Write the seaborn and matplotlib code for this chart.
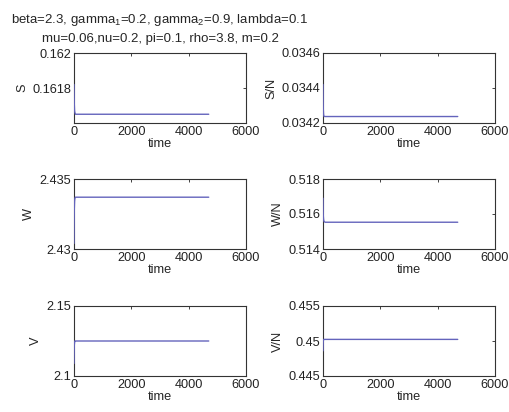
import numpy as np
import pandas as pd
import matplotlib
matplotlib.use("Agg")
import matplotlib.pyplot as plt
import seaborn as sns

sns.set_style("white")
plt.rcParams['font.family'] = ['Liberation Sans', 'DejaVu Sans']
plt.rcParams['mathtext.default'] = 'regular'

# time grid (simulation output samples)
time = [0, 5, 10, 20, 30, 50, 80, 120, 200, 500, 1000, 2000, 3000, 4000, 4700]

S = [0.16182, 0.16176, 0.16171, 0.16167, 0.16166, 0.16165, 0.16165, 0.16165,
     0.16165, 0.16165, 0.16165, 0.16165, 0.16165, 0.16165, 0.16165]
S_N = [0.03442, 0.03434, 0.03428, 0.03425, 0.03424, 0.034237, 0.034237, 0.034237,
       0.034237, 0.034237, 0.034237, 0.034237, 0.034237, 0.034237, 0.034237]
W = [2.4304, 2.4318, 2.4328, 2.4334, 2.4336, 2.4337, 2.4337, 2.4337,
     2.4337, 2.4337, 2.4337, 2.4337, 2.4337, 2.4337, 2.4337]
W_N = [0.5169, 0.5163, 0.5159, 0.5157, 0.5156, 0.51555, 0.51553, 0.51553,
       0.51553, 0.51553, 0.51553, 0.51553, 0.51553, 0.51553, 0.51553]
V = [2.109, 2.117, 2.122, 2.124, 2.125, 2.125, 2.125, 2.125,
     2.125, 2.125, 2.125, 2.125, 2.125, 2.125, 2.125]
V_N = [0.4486, 0.4495, 0.4500, 0.4502, 0.45023, 0.45023, 0.45023, 0.45023,
       0.45023, 0.45023, 0.45023, 0.45023, 0.45023, 0.45023, 0.45023]

panels = [
    ("S", S, (0.1616, 0.162), [0.1616, 0.1618, 0.162], ["", "0.1618", "0.162"]),
    ("S/N", S_N, (0.0342, 0.0346), [0.0342, 0.0344, 0.0346], ["0.0342", "0.0344", "0.0346"]),
    ("W", W, (2.43, 2.435), [2.43, 2.435], ["2.43", "2.435"]),
    ("W/N", W_N, (0.514, 0.518), [0.514, 0.516, 0.518], ["0.514", "0.516", "0.518"]),
    ("V", V, (2.1, 2.15), [2.1, 2.15], ["2.1", "2.15"]),
    ("V/N", V_N, (0.445, 0.455), [0.445, 0.45, 0.455], ["0.445", "0.45", "0.455"]),
]
xticks = [0, 2000, 4000, 6000]

fig = plt.figure(figsize=(5.1, 4.12), dpi=100)
lefts = [74 / 510, 323 / 510]
widths = [172 / 510, 172 / 510]
tops = [53, 179, 306]
h = 70 / 412
line_color = '#6464bc'
fs = 9.2

for i, (name, vals, ylim, yt, ytl) in enumerate(panels):
    r, c = divmod(i, 2)
    bottom = 1 - (tops[r] + 70) / 412
    ax = fig.add_axes([lefts[c], bottom, widths[c], h])
    df = pd.DataFrame({"time": time, "value": vals})
    sns.lineplot(data=df, x="time", y="value", ax=ax, color=line_color, lw=1.0,
                 zorder=3)
    ax.set_xlim(0, 6000)
    ax.set_ylim(*ylim)
    ax.set_xticks(xticks)
    ax.set_xticklabels([str(x) for x in xticks], fontsize=fs)
    ax.set_yticks(yt)
    ax.set_yticklabels(ytl, fontsize=fs)
    ax.set_ylabel(name, fontsize=fs, labelpad=3)
    ax.set_xlabel("time", fontsize=fs, labelpad=0)
    ax.tick_params(direction='in', top=True, right=True, length=2.5, width=0.6,
                   colors='#222222', pad=2)
    for sp in ax.spines.values():
        sp.set_visible(True)
        sp.set_color('#333333')
        sp.set_linewidth(0.8)
        sp.set_zorder(2)
    if i == 0:
        ax.set_title("beta=2.3, gamma$_1$=0.2, gamma$_2$=0.9, lambda=0.1\n"
                     "mu=0.06,nu=0.2, pi=0.1, rho=3.8, m=0.2",
                     fontsize=fs + 0.3, pad=8, linespacing=1.5)

fig.savefig("out.png", dpi=100)
